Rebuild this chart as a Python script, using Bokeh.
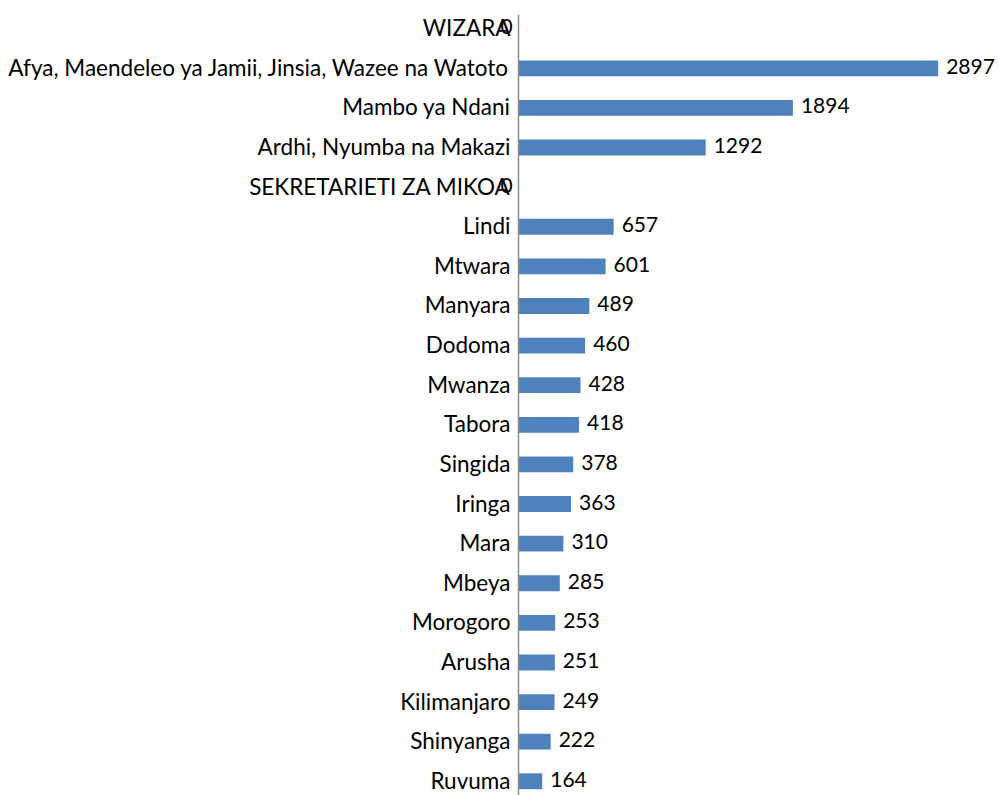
from bokeh.plotting import figure
from bokeh.models import Range1d, FactorRange, ColumnDataSource, Span
from bokeh.core.properties import value
from bokeh.embed import file_html
from bokeh.resources import INLINE

categories = ["WIZARA",
              "Afya, Maendeleo ya Jamii, Jinsia, Wazee na Watoto",
              "Mambo ya Ndani",
              "Ardhi, Nyumba na Makazi",
              "SEKRETARIETI ZA MIKOA",
              "Lindi", "Mtwara", "Manyara", "Dodoma", "Mwanza", "Tabora",
              "Singida", "Iringa", "Mara", "Mbeya", "Morogoro", "Arusha",
              "Kilimanjaro", "Shinyanga", "Ruvuma"]
values = [0, 2897, 1894, 1292, 0, 657, 601, 489, 460, 428, 418, 378, 363,
          310, 285, 253, 251, 249, 222, 164]

FONT = "Lato"

src = ColumnDataSource(dict(
    cat=categories,
    val=values,
    zero=[0] * len(values),
    lab=[str(v) for v in values],
    off=[8 if v > 0 else -18 for v in values],
))

yr = FactorRange(*reversed(categories))
yr.range_padding = -0.141
yr.range_padding_units = "absolute"

p = figure(width=999, height=795, output_backend="svg", toolbar_location=None,
           y_range=yr,
           x_range=Range1d(-3575.6, 3320.2),
           min_border_left=0, min_border_right=0, min_border_top=14,
           min_border_bottom=0)
p.outline_line_color = None
p.grid.visible = False
p.xaxis.visible = False
p.yaxis.visible = False

p.add_layout(Span(location=0, dimension="height", line_color="#8C8C8C",
                  line_width=1.5))

p.hbar(y="cat", right="val", left=0, height=0.4, source=src,
       fill_color="#4F81BD", line_color=None)

# category labels
p.text(x="zero", y="cat", text="cat", x_offset=-8, y_offset=-1, source=src,
       text_align="right", text_baseline="middle", text_color="black",
       text_font=value(FONT), text_font_size="22.5px")

# data labels
p.text(x="val", y="cat", text="lab", x_offset="off", y_offset=-2, source=src,
       text_align="left", text_baseline="middle", text_color="black",
       text_font=value(FONT), text_font_size="21px")

open("out.html", "w").write(file_html(p, INLINE))
